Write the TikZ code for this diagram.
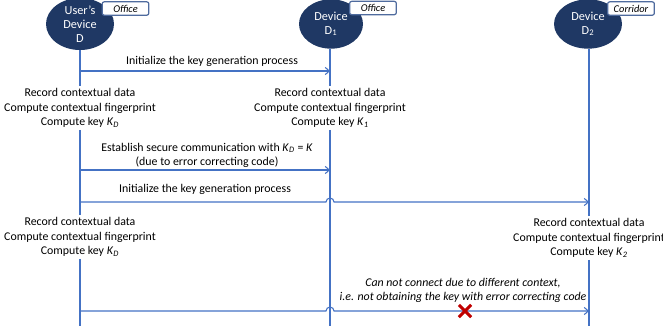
\documentclass[tikz,border=0pt]{standalone}
\usepackage{fontspec}
\setmainfont{Carlito}
\usetikzlibrary{arrows.meta}
\usetikzlibrary{shapes.geometric}
\usetikzlibrary{shapes.misc}
\definecolor{devblue}{RGB}{31,56,100}
\definecolor{msgblue}{RGB}{68,114,196}
\definecolor{tagblue}{RGB}{79,107,158}
\definecolor{failred}{RGB}{192,0,0}

\tikzset{
  device/.style={ellipse, fill=devblue, text=white, inner sep=0pt, minimum width=51pt, minimum height=37pt, align=center, font=\fontsize{9.2}{10.5}\selectfont},
  place/.style={draw=tagblue, line width=0.9pt, fill=white, rounded corners=1.5pt, minimum width=35pt, minimum height=10pt, inner sep=0pt, font=\fontsize{7.8}{9}\selectfont\itshape},
  steptext/.style={align=center, inner sep=1.5pt, font=\fontsize{8.9}{10.9}\selectfont},
  msgtext/.style={align=center, inner sep=0pt, font=\fontsize{8.9}{10.5}\selectfont},
  life/.style={msgblue, line width=0.8pt},
  msg/.style={msgblue, line width=0.8pt, -{Straight Barb[length=3pt,width=5.5pt]}},
}

\begin{document}
\begin{tikzpicture}[x=0.75pt,y=0.75pt,yscale=-1,xscale=1]
\useasboundingbox (0,0) rectangle (663,326);

%Devices
\node[device, minimum height=39pt] (ud) at (80,24) {User’s\\Device\\D};
\node[device, minimum width=48pt] (d1) at (331,24) {Device\\D\textsubscript{1}};
\node[device] (d2) at (588,24) {Device\\D\textsubscript{2}};
%Places
\node[place] (tagud) at (125.5,8.5) {Office};
\node[place] (tagd1) at (373,8) {Office};
\node[place] (tagd2) at (631,8.5) {Corridor};

%Steps
\node[steptext] (recud) at (80,108) {Record contextual data\\Compute contextual fingerprint\\Compute key \textit{K}\textsubscript{\textit{D}}};
\node[steptext] (recd1) at (330,108) {Record contextual data\\Compute contextual fingerprint\\Compute key \textit{K}\textsubscript{\textit{1}}};
\node[steptext] (recud2) at (80,237) {Record contextual data\\Compute contextual fingerprint\\Compute key \textit{K}\textsubscript{\textit{D}}};
\node[steptext] (recd2) at (589,238) {Record contextual data\\Compute contextual fingerprint\\Compute key \textit{K}\textsubscript{\textit{2}}};

%Lifelines
\coordinate (endud) at (80,326);
\coordinate (endd1) at (330,326);
\coordinate (endd2) at (589,326);
\draw[life] (ud) -- (recud);
\draw[life] (recud) -- (recud2);
\draw[life] (recud2) -- (endud);
\draw[life] (d1.south -| recd1) -- (recd1);
\draw[life] (recd1) -- (endd1);
\draw[life] (d2.south -| recd2) -- (recd2);
\draw[life] (recd2) -- (endd2);

%Messages
\coordinate (a1s) at (80,71);
\coordinate (a1e) at (330,71);
\coordinate (a2s) at (80,170);
\coordinate (a2e) at (330,170);
\coordinate (a3s) at (80,202);
\coordinate (h3) at (330,202);
\coordinate (a3e) at (589,202);
\coordinate (a4s) at (80,311);
\coordinate (h4) at (330,311);
\coordinate (a4e) at (589,311);
\draw[msg] (a1s) -- (a1e);
\draw[msg] (a2s) -- (a2e);
\draw[msg] (a3s) -- ([xshift=-3pt]h3) arc[start angle=180, end angle=360, radius=4] -- (a3e);
\draw[msg] (a4s) -- ([xshift=-3pt]h4) arc[start angle=180, end angle=360, radius=4] -- (a4e);

% Text Node
\node[msgtext] (m1) at (212,61) {Initialize the key generation process};
% Text Node
\node[msgtext] (m2) at (207,155) {Establish secure communication with \textit{K}\textsubscript{\textit{D}} = \textit{K}\\(due to error correcting code)};
% Text Node
\node[msgtext] (m3) at (205,189) {Initialize the key generation process};
% Text Node
\node[msgtext, font=\fontsize{8.9}{10.5}\selectfont\itshape] (m4) at (463,290) {Can not connect due to different context,\\i.e. not obtaining the key with error correcting code};

%Failure mark
\node[cross out, draw=failred, line width=2.2pt, minimum size=7pt, inner sep=0pt] (fail) at (465,311) {};

\end{tikzpicture}
\end{document}
